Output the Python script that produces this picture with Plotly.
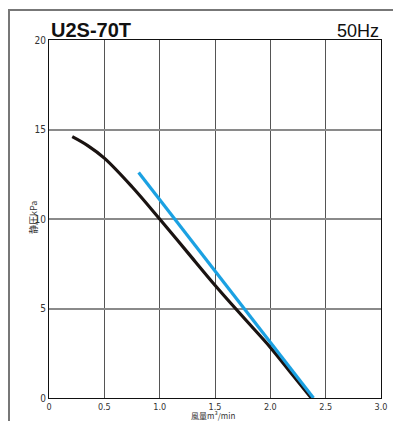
import plotly.graph_objects as go

# data
black_x = [0.21, 0.35, 0.5, 0.75, 1.0, 1.25, 1.5, 1.75, 2.0, 2.2, 2.37]
black_y = [14.6, 14.1, 13.4, 11.8, 10.0, 8.15, 6.3, 4.55, 2.83, 1.3, 0.0]
blue_x = [0.81, 2.39]
blue_y = [12.6, 0.0]
x_ticks = [0, 0.5, 1.0, 1.5, 2.0, 2.5, 3.0]
x_labels = ["0", "0.5", "1.0", "1.5", "2.0", "2.5", "3.0"]
y_ticks = [0, 5, 10, 15, 20]
y_labels = ["0", "5", "10", "15", "20"]

TF = "Liberation Sans Narrow, DejaVu Sans Condensed, Liberation Sans, Arial, sans-serif"
PW, PH = 332, 358
L, T = 41, 32  # page has an 8px body offset

fig = go.Figure()
fig.add_trace(go.Scatter(x=black_x, y=black_y, mode="lines",
                         line=dict(color="#1a1311", width=3.2, shape="spline", smoothing=1.0),
                         hoverinfo="skip", showlegend=False))
fig.add_trace(go.Scatter(x=blue_x, y=blue_y, mode="lines",
                         line=dict(color="#1ba1e2", width=3.2),
                         hoverinfo="skip", showlegend=False))

fig.update_layout(
    width=393, height=413,
    margin=dict(l=L, r=20, t=T, b=23, autoexpand=False),
    paper_bgcolor="white", plot_bgcolor="white",
    xaxis=dict(range=[0, 3], tickvals=x_ticks, ticktext=x_labels, automargin=False,
               showgrid=True, gridcolor="#555555", gridwidth=1,
               showline=True, linecolor="#111111", linewidth=1, mirror=True,
               ticks="", zeroline=False, ticklabelstandoff=0,
               tickfont=dict(family=TF, size=9, color="#333333")),
    yaxis=dict(range=[0, 20], tickvals=y_ticks, ticktext=y_labels, automargin=False,
               showgrid=True, gridcolor="#8a8a8a", gridwidth=1.5,
               showline=True, linecolor="#111111", linewidth=1, mirror=True,
               ticks="", zeroline=False, ticklabelstandoff=0,
               tickfont=dict(family=TF, size=10, color="#333333")),
    annotations=[
        dict(text="<b>U2S-70T</b>", xref="paper", yref="paper", x=0, y=1,
             xanchor="left", yanchor="bottom", yshift=-3, showarrow=False,
             font=dict(family="Liberation Sans, Arial, sans-serif", size=20, color="#111111")),
        dict(text="50Hz", xref="paper", yref="paper", x=1, y=1,
             xanchor="right", yanchor="bottom", yshift=-3, showarrow=False,
             font=dict(family="Liberation Sans, Arial, sans-serif", size=18, color="#111111")),
        dict(text="風量m³/min", xref="paper", yref="paper", x=164/PW, y=0,
             xanchor="center", yanchor="middle", yshift=-17, showarrow=False,
             font=dict(family="Noto Sans CJK JP", size=8, color="#333333")),
        dict(text="静圧kPa", xref="paper", yref="paper", x=0, y=(398-218)/PH,
             xanchor="center", yanchor="middle", xshift=-16, textangle=-90, showarrow=False,
             font=dict(family="Noto Sans CJK JP", size=9, color="#333333")),
    ],
)

fig.add_hline(y=10, line=dict(color="#111111", width=1), layer="below")
fig.add_shape(type="line", xref="paper", yref="paper", x0=-L/PW, x1=1 + 20/PW,
              y0=1 + (T - 2)/PH, y1=1 + (T - 2)/PH, line=dict(color="#777777", width=2),
              layer="above")
fig.add_shape(type="line", xref="paper", yref="paper", x0=-(L - 1)/PW, x1=-(L - 1)/PW,
              y0=1 + (T - 2)/PH, y1=-23/PH, line=dict(color="#777777", width=2),
              layer="above")

fig.write_html("out.html")
